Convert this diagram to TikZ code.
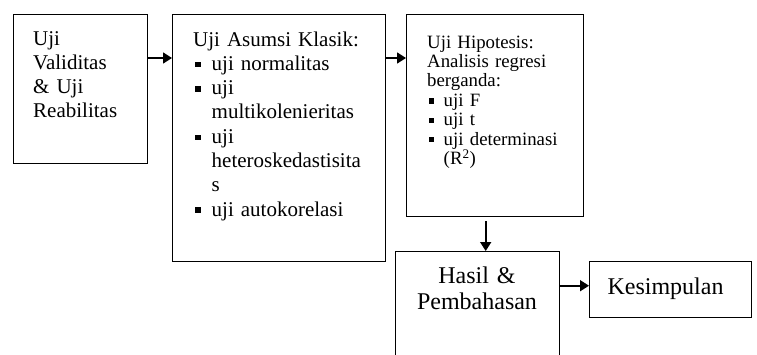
\documentclass[tikz,border=0pt]{standalone}
\usepackage{fontspec}
\setmainfont{Liberation Serif}
\usetikzlibrary{arrows.meta,calc}
\newcommand{\butir}{\rule[0.14em]{0.27em}{0.27em}}
\newcommand{\poin}{\makebox[0.88em][l]{\hspace{0.1em}\butir}}
\newcommand{\lanjut}{\hspace*{0.88em}}
\begin{document}
\begin{tikzpicture}[x=1pt,y=-1pt]
\useasboundingbox (0,0) rectangle (757,354);
\clip (0,0) rectangle (757,354);
\tikzstyle{kotak}=[draw,line width=1.4pt,inner sep=0pt,anchor=north west];
\tikzstyle{isi}=[inner sep=0pt,anchor=base west,align=left];
\tikzstyle{panah}=[line width=1.6pt,-{Triangle[length=9pt,width=11pt]}];
\node[kotak,minimum width=134pt,minimum height=149pt] (1) at (13,14) {};
\node[kotak,minimum width=213pt,minimum height=247pt] (2) at (172,14) {};
\node[kotak,minimum width=177pt,minimum height=202pt] (3) at (406,14) {};
\node[kotak,minimum width=164pt,minimum height=130pt] (4) at (395,251) {};
\node[kotak,minimum width=162pt,minimum height=56pt] (5) at (589,261) {};
\node[isi,text width=110pt,font=\fontsize{21}{24.3}\selectfont] (t1) at (33,45)
  {Uji\\Validitas\\\& Uji\\Reabilitas};
\node[isi,text width=190pt,font=\fontsize{21}{24.3}\selectfont] (t2) at (193,46)
  {Uji Asumsi Klasik:\\\poin uji normalitas\\\poin uji\\\lanjut multikolenieritas\\\poin uji\\\lanjut heteroskedastisita\\\lanjut s\\\poin uji autokorelasi};
\node[isi,text width=150pt,font=\fontsize{18.8}{19.4}\selectfont] (t3) at (427,48)
  {Uji Hipotesis:\\Analisis regresi\\berganda:\\\poin uji F\\\poin uji t\\\poin uji determinasi\\\lanjut(R\textsuperscript{2})};
\node[isi,anchor=base,align=center,text width=150pt,font=\fontsize{24}{26.2}\selectfont] (t4) at (477,283.3)
  {Hasil \&\\Pembahasan};
\node[isi,anchor=base,font=\fontsize{24}{26}\selectfont] (t5) at (665.5,294.3) {Kesimpulan};
\draw[panah] ([yshift=-44pt]1.north east) -- ([yshift=-44pt]2.north west);
\draw[panah] ([yshift=-44pt]2.north east) -- ([yshift=-44pt]3.north west);
\draw[panah] ([shift={(-9.5,4)}]3.south) -- ([xshift=8pt]4.north);
\draw[panah] ($(4.east |- 5.west)+(0,-4)$) -- ($(5.west)+(0,-4)$);
\end{tikzpicture}
\end{document}
